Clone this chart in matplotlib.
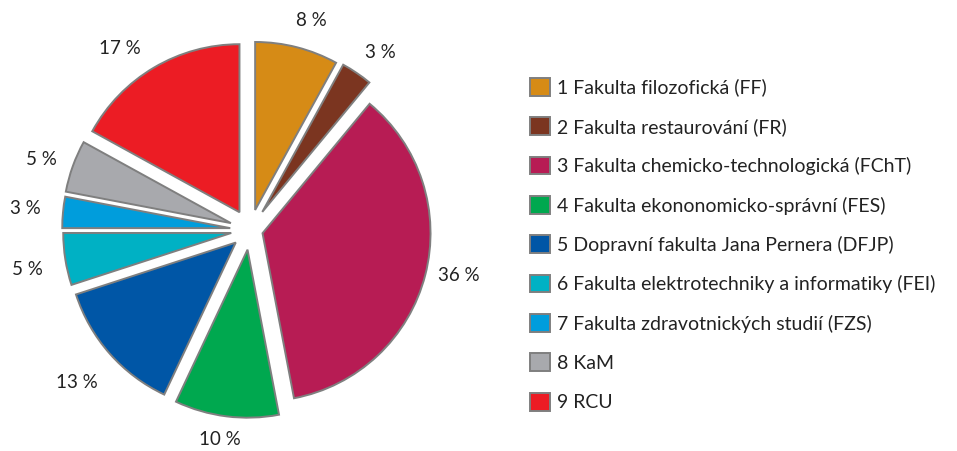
import matplotlib
matplotlib.use("Agg")
import matplotlib.pyplot as plt
import numpy as np

categories = ["1 Fakulta filozofická (FF)",
              "2 Fakulta restaurování (FR)",
              "3 Fakulta chemicko-technologická (FChT)",
              "4 Fakulta ekononomicko-správní (FES)",
              "5 Dopravní fakulta Jana Pernera (DFJP)",
              "6 Fakulta elektrotechniky a informatiky (FEI)",
              "7 Fakulta zdravotnických studií (FZS)",
              "8 KaM",
              "9 RCU"]
values = [8, 3, 36, 10, 13, 5, 3, 5, 17]
value_labels = ["8 %", "3 %", "36 %", "10 %", "13 %", "5 %", "3 %", "5 %", "17 %"]
colors = ["#D68B16", "#7B3520", "#B71C54", "#00A84F", "#0056A6",
          "#00B1C4", "#009DDC", "#A8A9AD", "#EC1C24"]
explode = [0.123, 0.13, 0.077, 0.118, 0.113, 0.113, 0.118, 0.121, 0.123]

plt.rcParams['font.family'] = ['Lato', 'DejaVu Sans']

W, H = 957, 451
cx, cy, R = 250, 230, 168
fig = plt.figure(figsize=(W / 100, H / 100), dpi=100)
ax = fig.add_axes([0, 0, 1, 1])

wedges, _ = ax.pie(values, colors=colors, explode=explode, startangle=90,
                   counterclock=False, radius=1.0,
                   wedgeprops=dict(edgecolor="#7f7f7f", linewidth=1.4),
                   frame=True)
ax.set_xlim(-cx / R, (W - cx) / R)
ax.set_ylim((cy - H) / R, cy / R)
ax.set_aspect('auto')
ax.axis('off')

label_r = [1.30, 1.31, 1.27, 1.26, 1.375, 1.345, 1.345, 1.31, 1.33]
label_da = [-2, -2, 2, -1, 0, 1, 0, 1, 5]
for w, lab, r, da in zip(wedges, value_labels, label_r, label_da):
    mid = np.deg2rad((w.theta1 + w.theta2) / 2 + da)
    ax.text(r * np.cos(mid), r * np.sin(mid), lab, ha='center', va='center',
            fontsize=13.5, color="#222222")

leg = fig.legend(wedges, categories, loc='upper left',
                 bbox_to_anchor=(530 / W, 1 - 78 / H), frameon=False,
                 fontsize=14, handlelength=1.03, handleheight=1.03,
                 handletextpad=0.36, labelspacing=1.07, borderaxespad=0,
                 borderpad=0)
for t in leg.get_texts():
    t.set_color("#222222")

fig.savefig("out.png", dpi=100)
